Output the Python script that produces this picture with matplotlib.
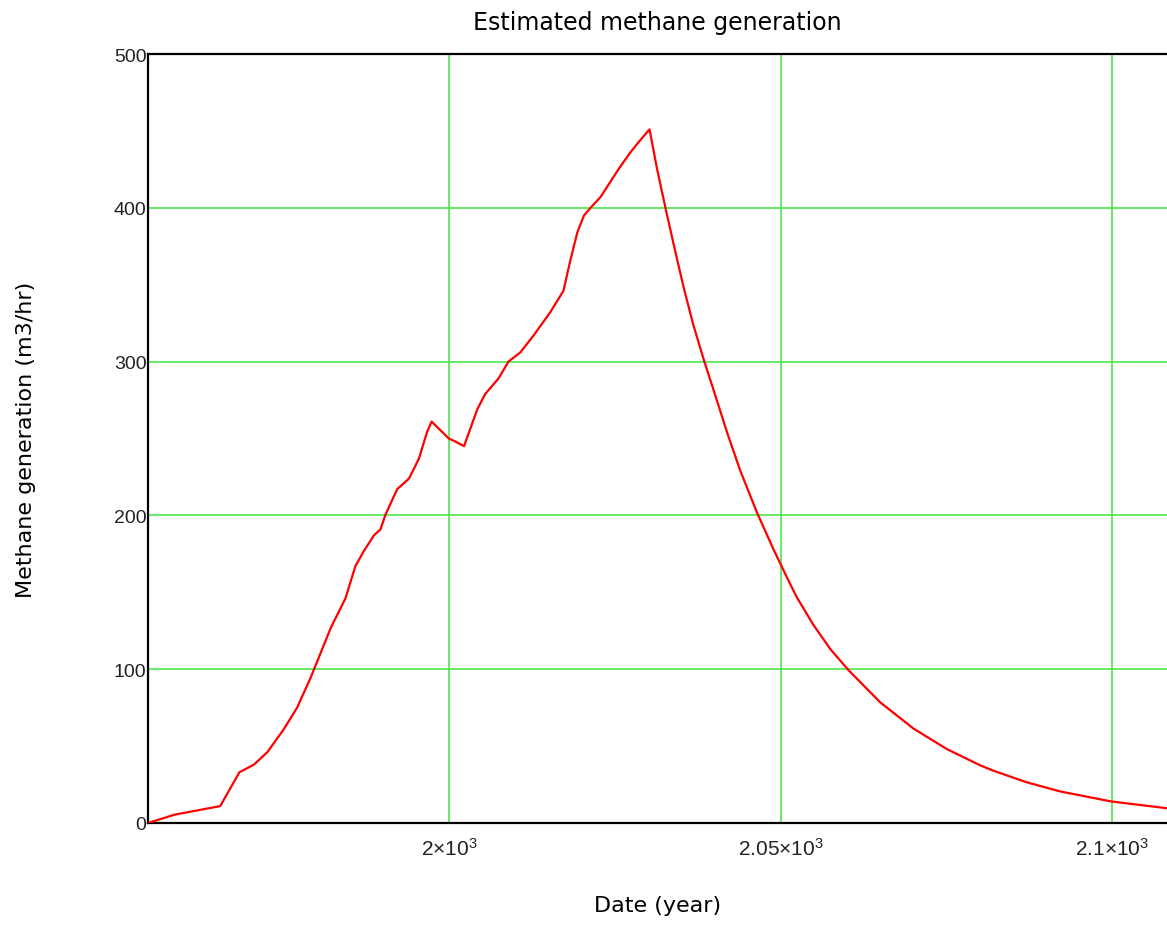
import matplotlib
matplotlib.use('Agg')
import matplotlib.pyplot as plt

# Data --------------------------------------------------------------------

years = [1954.5, 1958.5, 1965.4, 1968.3, 1970.5, 1972.5, 1975.0, 1977.0, 1979.0,
         1982.1, 1984.3, 1985.8, 1987.1, 1988.6, 1989.6, 1990.3, 1992.1, 1993.9,
         1995.4, 1996.6, 1997.3, 1999.9, 2000.9, 2002.2, 2003.7, 2004.2, 2005.4,
         2007.4, 2008.9, 2010.7, 2012.7, 2015.2, 2017.2, 2018.2, 2019.3, 2020.3,
         2021.3, 2022.8, 2024.0, 2025.5, 2027.3, 2028.8, 2030.2,
         2031.3, 2032.6, 2033.8, 2035.3, 2036.8, 2038.4, 2039.9, 2041.9, 2043.9,
         2046.4, 2048.9, 2050.9, 2052.4, 2054.9, 2057.5, 2060.2, 2065.0, 2070.0,
         2075.1, 2080.1, 2082.1, 2087.1, 2092.2, 2099.9, 2108.3]
methane = [0, 5.4, 11, 33, 38, 46, 61, 75, 94,
           127, 146, 167, 177, 187, 191, 200, 217, 224,
           237, 254, 261, 250, 248, 245, 263, 269, 279,
           289, 300, 306, 317, 332, 346, 365, 384, 395,
           400, 407, 415, 425, 436, 444, 451,
           426, 400, 377, 349, 324, 301, 281, 254, 229,
           202, 178, 160, 147, 129, 113, 99.5, 78.5, 61.5,
           48, 37.5, 34, 26.5, 20.5, 14, 9.6]

x_ticks = [2000, 2050, 2100]
x_tick_labels = [r'$\mathregular{2{\times}10^{3}}$',
                 r'$\mathregular{2.05{\times}10^{3}}$',
                 r'$\mathregular{2.1{\times}10^{3}}$']
y_ticks = [0, 100, 200, 300, 400, 500]

# PLOT --------------------------------------------------------------------

plt.rcParams['font.family'] = ['Liberation Sans', 'DejaVu Sans']
plt.rcParams['mathtext.fontset'] = 'custom'
plt.rcParams['mathtext.rm'] = 'Liberation Sans'

fig = plt.figure(figsize=(11.67, 9.29), dpi=100)
ax = fig.add_axes([148/1167, 105/929, 1 - 148/1167, 769/929])

ax.plot(years, methane, color='#ff0000', lw=1.6, zorder=3)

ax.set_xlim(1954.5, 2108.3)
ax.set_ylim(0, 500)

ax.set_xticks(x_ticks)
ax.set_xticklabels(x_tick_labels, fontsize=15)
ax.set_yticks(y_ticks)

ax.tick_params(axis='both', length=0, colors='#222222')
ax.tick_params(axis='y', labelsize=14, pad=1)
ax.tick_params(axis='x', pad=10)

ax.grid(True, color='#4ce64c', lw=1.2, zorder=1)

for s in ['left', 'top', 'bottom']:
    ax.spines[s].set_linewidth(1.6)
    ax.spines[s].set_color('black')
ax.spines['right'].set_visible(False)

lab_font = ['DejaVu Sans']
ax.set_title('Estimated methane generation', fontsize=17, family=lab_font, pad=18)
ax.set_xlabel('Date (year)', fontsize=16, family=lab_font, labelpad=26)
ax.set_ylabel('Methane generation (m3/hr)', fontsize=16, family=lab_font, labelpad=56)

fig.savefig('out.png', dpi=100)
